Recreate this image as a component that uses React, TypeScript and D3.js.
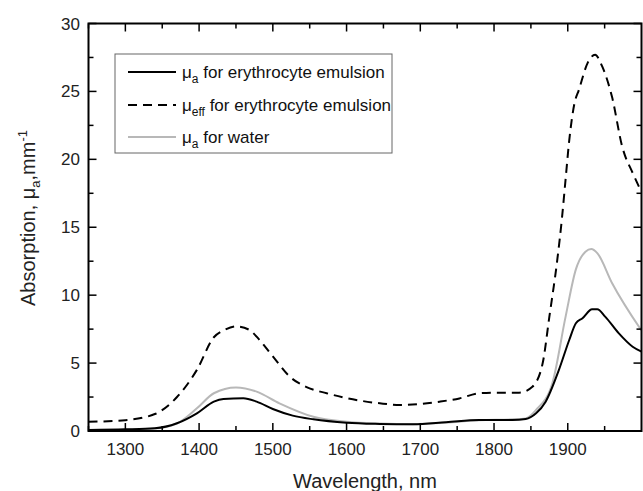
import React from 'react'
import * as d3 from 'd3'

// wavelengths (nm) and values (mm^-1)
const effWl = [1250, 1300, 1340, 1370, 1397, 1420, 1435, 1450, 1468, 1482, 1500, 1523, 1545, 1573, 1600, 1645, 1672, 1700, 1726, 1753, 1780, 1803, 1834, 1852, 1866, 1875, 1886, 1892, 1897, 1902, 1909, 1915, 1927, 1937, 1947, 1960, 1974, 1988, 2000]
const effVal = [0.68, 0.8, 1.25, 2.5, 4.5, 6.9, 7.45, 7.7, 7.45, 6.7, 5.5, 4.0, 3.25, 2.78, 2.42, 2.04, 1.92, 1.99, 2.16, 2.4, 2.78, 2.82, 2.82, 3.26, 5.0, 8.4, 12.7, 15.6, 18.5, 21.4, 24.1, 25.1, 27.1, 27.7, 26.8, 24.6, 20.9, 19.0, 17.6]

const eryWl = [1250, 1300, 1340, 1370, 1397, 1420, 1433, 1460, 1478, 1500, 1527, 1555, 1600, 1645, 1690, 1735, 1780, 1825, 1843, 1857, 1870, 1888, 1902, 1911, 1920, 1933, 1940, 1951, 1969, 1988, 2000]
const eryVal = [0.07, 0.12, 0.2, 0.57, 1.3, 2.16, 2.36, 2.41, 2.16, 1.62, 1.13, 0.86, 0.61, 0.52, 0.49, 0.64, 0.81, 0.81, 0.88, 1.3, 2.16, 4.5, 6.7, 7.93, 8.3, 8.96, 8.96, 8.4, 7.2, 6.2, 5.84]

const waterWl = [1250, 1300, 1340, 1370, 1397, 1420, 1450, 1478, 1509, 1555, 1600, 1645, 1690, 1735, 1780, 1825, 1843, 1857, 1879, 1897, 1911, 1924, 1932, 1940, 1960, 2000]
const waterVal = [0.05, 0.1, 0.18, 0.55, 1.67, 2.78, 3.2, 2.9, 2.04, 1.05, 0.69, 0.55, 0.5, 0.62, 0.8, 0.86, 0.93, 1.55, 3.5, 8.4, 11.9, 13.2, 13.4, 13.1, 10.9, 7.4]

const xTicks = [1300, 1400, 1500, 1600, 1700, 1800, 1900]
const xMinor = [1250, 1350, 1450, 1550, 1650, 1750, 1850, 1950]
const yTicks = [0, 5, 10, 15, 20, 25, 30]
const yMinor = [2.5, 7.5, 12.5, 17.5, 22.5, 27.5]

const font = 'Liberation Sans, Arial, sans-serif'

export default function App() {
  const left = 88.5, right = 641.5, top = 23.5, bottom = 431
  const x = d3.scaleLinear().domain([1250, 2000]).range([left, right])
  const y = d3.scaleLinear().domain([0, 30]).range([bottom, top])

  const line = (wl, val) =>
    d3.line().x(d => x(d[0])).y(d => y(d[1])).curve(d3.curveMonotoneX)(wl.map((w, i) => [w, val[i]]))

  const majLen = 8, minLen = 5

  return (
    <svg width={643} height={491} style={{position: 'absolute', left: 0, top: 0, background: '#fff'}} fontFamily={font}>
      <rect width={643} height={491} fill="#fff" />
      <defs>
        <clipPath id="plot">
          <rect x={left} y={top} width={right - left} height={bottom - top} />
        </clipPath>
      </defs>

      <g clipPath="url(#plot)" fill="none" strokeLinejoin="round">
        <path d={line(waterWl, waterVal)} stroke="#b8b8b8" strokeWidth={2} />
        <path d={line(eryWl, eryVal)} stroke="#000" strokeWidth={2} />
        <path d={line(effWl, effVal)} stroke="#000" strokeWidth={2} strokeDasharray="9,6" />
      </g>

      {/* ticks, inside on all four sides */}
      <g stroke="#000" strokeWidth={1.5}>
        {xTicks.map(t => (
          <g key={'x' + t}>
            <line x1={x(t)} x2={x(t)} y1={bottom} y2={bottom - majLen} />
            <line x1={x(t)} x2={x(t)} y1={top} y2={top + majLen} />
          </g>
        ))}
        {xMinor.map(t => (
          <g key={'xm' + t}>
            <line x1={x(t)} x2={x(t)} y1={bottom} y2={bottom - minLen} />
            <line x1={x(t)} x2={x(t)} y1={top} y2={top + minLen} />
          </g>
        ))}
        {yTicks.map(t => (
          <g key={'y' + t}>
            <line x1={left} x2={left + majLen} y1={y(t)} y2={y(t)} />
            <line x1={right} x2={right - majLen} y1={y(t)} y2={y(t)} />
          </g>
        ))}
        {yMinor.map(t => (
          <g key={'ym' + t}>
            <line x1={left} x2={left + minLen} y1={y(t)} y2={y(t)} />
            <line x1={right} x2={right - minLen} y1={y(t)} y2={y(t)} />
          </g>
        ))}
      </g>
      <rect x={left} y={top} width={right - left} height={bottom - top} fill="none" stroke="#000" strokeWidth={2} />

      <g fontSize={17} fill="#222">
        {xTicks.map(t => (
          <text key={t} x={x(t)} y={455} textAnchor="middle">{t}</text>
        ))}
        {yTicks.map(t => (
          <text key={t} x={80} y={y(t) + 6} textAnchor="end">{t}</text>
        ))}
      </g>

      <text x={(left + right) / 2} y={488} textAnchor="middle" fontSize={20} fill="#222">Wavelength, nm</text>
      <text transform={`translate(35,218) rotate(-90)`} textAnchor="middle" fontSize={20} fill="#222">
        Absorption, μ<tspan fontSize={13} dy={5}>a</tspan><tspan dy={-5}>,mm</tspan><tspan fontSize={13} dy={-8}>-1</tspan>
      </text>

      {/* legend */}
      <rect x={115} y={54} width={277} height={99} fill="#fff" stroke="#666" strokeWidth={1} />
      <g fontSize={17} fill="#111">
        <line x1={128} x2={176} y1={72} y2={72} stroke="#000" strokeWidth={2} />
        <text x={182} y={78}>μ<tspan fontSize={12} dy={5}>a</tspan><tspan dy={-5}> for erythrocyte emulsion</tspan></text>
        <line x1={128} x2={176} y1={105} y2={105} stroke="#000" strokeWidth={2} strokeDasharray="9,6" />
        <text x={182} y={111}>μ<tspan fontSize={12} dy={5}>eff</tspan><tspan dy={-5}> for erythrocyte emulsion</tspan></text>
        <line x1={128} x2={176} y1={137} y2={137} stroke="#b8b8b8" strokeWidth={2} />
        <text x={182} y={143}>μ<tspan fontSize={12} dy={5}>a</tspan><tspan dy={-5}> for water</tspan></text>
      </g>
    </svg>
  )
}
